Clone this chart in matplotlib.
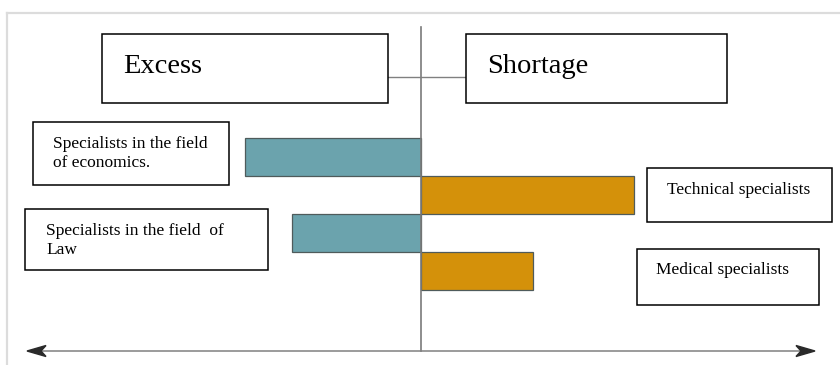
import matplotlib
matplotlib.use('Agg')
import matplotlib.pyplot as plt
from matplotlib.patches import Rectangle, Polygon

# ---- data ----
categories = ["Specialists in the field\nof economics.",
              "Technical specialists",
              "Specialists in the field  of\nLaw",
              "Medical specialists"]
values = [-44.7, 54.1, -32.7, 28.4]
bar_colors = ['#6ba3ad', '#d4910a', '#6ba3ad', '#d4910a']
header_labels = ["Excess", "Shortage"]

SERIF = ['Liberation Serif', 'DejaVu Serif']

fig = plt.figure(figsize=(8.4, 3.65), dpi=100)
fig.patch.set_facecolor('white')

# main data axes (full figure)
ax = fig.add_axes([0, 0, 1, 1])
ax.set_axis_off()
ypos = list(range(len(values)))
ax.barh(ypos, values, height=1.0, color=bar_colors, edgecolor='#4f5b5b',
        linewidth=0.9, zorder=2)
ax.set_xlim(-106.85, 106.35)
ax.set_ylim(5.474, -4.132)
ax.axvline(0, ymin=0.038, ymax=0.926, color='#7a7a7a', lw=1.2, zorder=3)

# overlay axes in pixel coordinates for annotation boxes
ov = fig.add_axes([0, 0, 1, 1], facecolor='none')
ov.set_axis_off()
ov.set_xlim(0, 840)
ov.set_ylim(365, 0)

# outer light frame
ov.plot([7, 840], [13, 13], color='#dcdcdc', lw=1.6)
ov.plot([7, 7], [13, 365], color='#dcdcdc', lw=1.6)

# horizontal double arrow
ov.plot([40, 802], [351, 351], color='#808080', lw=1.1, zorder=3)
ov.add_patch(Polygon([(27, 351), (46, 345.5), (41, 351), (46, 356.5)],
                     closed=True, color='#2a2a2a', zorder=4))
ov.add_patch(Polygon([(815, 351), (796, 345.5), (801, 351), (796, 356.5)],
                     closed=True, color='#2a2a2a', zorder=4))

# connector between header boxes
ov.plot([388, 466], [77, 77], color='#808080', lw=1.0, zorder=1)

def box(x0, y0, x1, y1):
    ov.add_patch(Rectangle((x0, y0), x1 - x0, y1 - y0, facecolor='white',
                           edgecolor='black', lw=1.1, zorder=5))

# header boxes
box(102, 34, 388, 103)
box(466, 34, 727, 103)
ov.text(123, 73, header_labels[0], family=SERIF, fontsize=20.5,
        va='baseline', ha='left', zorder=6)
ov.text(487, 73, header_labels[1], family=SERIF, fontsize=20.5,
        va='baseline', ha='left', zorder=6)

# category label boxes
label_boxes = [(33, 122, 229, 185), (647, 168, 832, 222),
               (25, 209, 268, 270), (637, 249, 819, 305)]
label_pos = [(53, 136), (667, 182), (46, 223), (656, 262)]
for (bx0, by0, bx1, by1), (tx, ty), lab in zip(label_boxes, label_pos, categories):
    box(bx0, by0, bx1, by1)
    ov.text(tx, ty, lab, family=SERIF, fontsize=12.5, va='top', ha='left',
            linespacing=1.25, zorder=6)

fig.savefig('out.png', dpi=100, facecolor='white')
